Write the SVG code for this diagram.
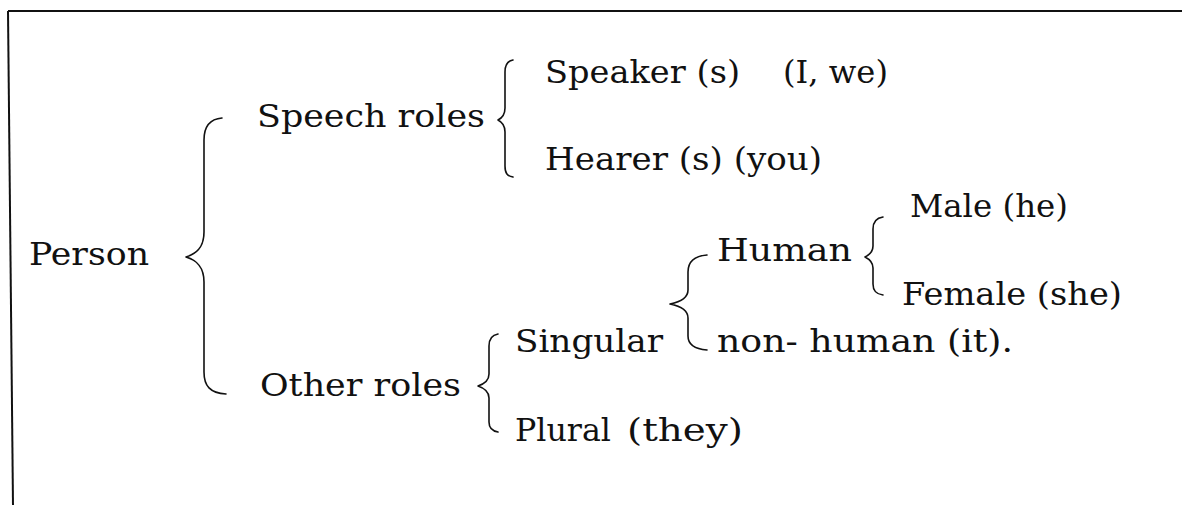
<svg xmlns="http://www.w3.org/2000/svg" width="1182" height="505" viewBox="0 0 1182 505">
  <style>
    .t { font-family: "DejaVu Serif", "Liberation Serif", serif; font-size: 31px; fill: #111; }
    .br { fill: none; stroke: #111; stroke-width: 1.6; stroke-linecap: round; stroke-linejoin: round; }
    .frame { stroke: #111; stroke-width: 2; fill: none; }
  </style>
  <rect width="1182" height="505" fill="#fff"/>
  <g id="frame">
    <line class="frame" x1="8" y1="11" x2="1182" y2="11"/>
    <line class="frame" x1="8" y1="11" x2="13" y2="505"/>
  </g>
  <g id="connectors">
    <path class="br" d="M222,118 C210,119 204,126 204,140 L204,232 C204,248 196,254 186,257 C196,260 204,266 204,282 L204,372 C204,386 210,393 226,394"/>
    <path class="br" d="M513,60 C507,61 505,65 505,72 L505,108 C505,115 502,118 498,120 C502,122 505,125 505,132 L505,166 C505,173 507,176 513,177"/>
    <path class="br" d="M883,217 C876,218 873,222 873,229 L873,246 C873,252 869,255 865,257 C869,259 873,262 873,268 L873,284 C873,291 876,294 883,295"/>
    <path class="br" d="M707,255 C694,256 688,262 688,272 L688,290 C688,298 680,302 670,304 C680,306 688,310 688,318 L688,336 C688,344 694,349 707,350"/>
    <path class="br" d="M498,334 C492,335 489,339 489,346 L489,374 C489,381 484,384 478,386 C484,388 489,391 489,398 L489,422 C489,428 492,431 498,432"/>
  </g>
  <g id="person"><text class="t" x="29" y="265" textLength="120" lengthAdjust="spacingAndGlyphs">Person</text></g>
  <g id="speech-roles"><text class="t" x="257" y="127" textLength="228" lengthAdjust="spacingAndGlyphs">Speech roles</text></g>
  <g id="speaker"><text class="t" y="83"><tspan x="545" textLength="195" lengthAdjust="spacingAndGlyphs">Speaker (s)</tspan><tspan x="783" textLength="105" lengthAdjust="spacingAndGlyphs">(I, we)</tspan></text></g>
  <g id="hearer"><text class="t" x="545" y="170" textLength="277" lengthAdjust="spacingAndGlyphs">Hearer (s) (you)</text></g>
  <g id="other-roles"><text class="t" x="260" y="396" textLength="201" lengthAdjust="spacingAndGlyphs">Other roles</text></g>
  <g id="singular"><text class="t" x="515" y="352" textLength="148" lengthAdjust="spacingAndGlyphs">Singular</text></g>
  <g id="plural"><text class="t" y="441"><tspan x="515" textLength="96" lengthAdjust="spacingAndGlyphs">Plural</tspan><tspan x="627" textLength="116" lengthAdjust="spacingAndGlyphs">(they)</tspan></text></g>
  <g id="human"><text class="t" x="717" y="261" textLength="135" lengthAdjust="spacingAndGlyphs">Human</text></g>
  <g id="non-human"><text class="t" x="717" y="352" textLength="296" lengthAdjust="spacingAndGlyphs">non- human (it).</text></g>
  <g id="male"><text class="t" x="910" y="217" textLength="158" lengthAdjust="spacingAndGlyphs">Male (he)</text></g>
  <g id="female"><text class="t" x="902" y="305" textLength="220" lengthAdjust="spacingAndGlyphs">Female (she)</text></g>
</svg>
